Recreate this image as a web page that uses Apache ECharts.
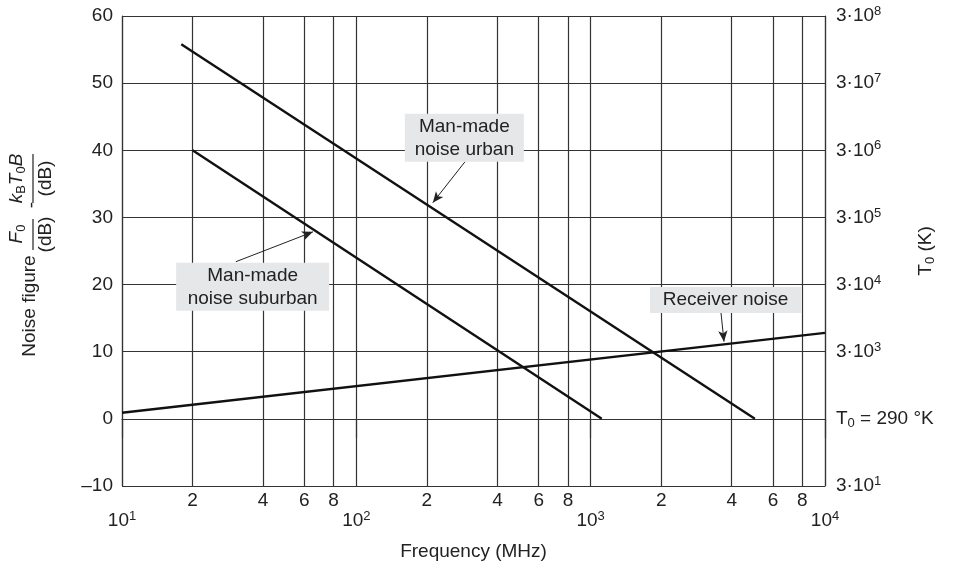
<!DOCTYPE html>
<html>
<head>
<meta charset="utf-8">
<script src="https://cdn.jsdelivr.net/npm/echarts@6/dist/echarts.min.js"></script>
<style>html,body{margin:0;padding:0;background:#fff}#c{width:955px;height:573px}</style>
</head>
<body>
<div id="c"></div>
<script>
// ---- data ----
const decadeTicks = [10, 100, 1000, 10000];
const minorTicks = [20, 40, 60, 80, 200, 400, 600, 800, 2000, 4000, 6000, 8000];
const yTicks = [-10, 0, 10, 20, 30, 40, 50, 60];
const tempExponents = [1, null, 3, 4, 5, 6, 7, 8]; // right axis: 3·10^n, null = T0 = 290 °K

const urbanFreq = [17.9, 5020];
const urbanDb = [55.8, 0];
const suburbanFreq = [20, 1115];
const suburbanDb = [40, 0];
const receiverFreq = [10, 10000];
const receiverDb = [0.9, 12.8];

const annoText = ['Man-made\nnoise urban', 'Man-made\nnoise suburban', 'Receiver noise'];
const annoBox = [[289, 41.85], [36.1, 19.66], [3762, 17.72]];
const annoFrom = [[291, 38.3], [30.6, 23.4], [3599, 15.8]];
const annoTo = [[212, 32.2], [65.3, 27.85], [3707, 11.5]];

// ---- chart ----
const FONT = '"Liberation Sans", Arial, Helvetica, sans-serif';
const FS = 19;
const TXT = '#222';
const GRID = '#333';
const chart = echarts.init(document.getElementById('c'), null, {renderer: 'canvas'});

function zip(a, b) { return a.map((v, i) => [v, b[i]]); }
const supRich = {
  b: {fontSize: FS, fontFamily: FONT, color: TXT, lineHeight: 22},
  s: {fontSize: 13, fontFamily: FONT, color: TXT, verticalAlign: 'top', lineHeight: 13},
  sub: {fontSize: 13, fontFamily: FONT, color: TXT, verticalAlign: 'bottom', lineHeight: 13}
};
const annoSizes = [[119, 48], [153, 48], [151, 26]];
const lineStyleData = {color: '#111', width: 2.4};
const italRich = {
  i: {fontSize: FS, fontStyle: 'italic', fontFamily: FONT, fill: TXT, lineHeight: 22},
  sub: {fontSize: 13, fontFamily: FONT, fill: TXT, verticalAlign: 'bottom', lineHeight: 13}
};

const option = {
  animation: false,
  backgroundColor: '#fff',
  textStyle: {fontFamily: FONT},
  grid: {left: 122, right: 130, top: 16, bottom: 87, outerBoundsMode: 'none', containLabel: false},
  xAxis: [{
    type: 'log', logBase: 10, min: 10, max: 10000,
    name: 'Frequency (MHz)', nameLocation: 'middle', nameGap: 56, nameMoveOverlap: false,
    nameTextStyle: {fontSize: FS, color: TXT, fontFamily: FONT},
    axisLine: {show: true, lineStyle: {color: GRID, width: 1.2}},
    axisTick: {show: true, inside: false, length: 19, customValues: decadeTicks, lineStyle: {color: GRID, width: 1.2}},
    axisLabel: {
      customValues: decadeTicks, margin: 24,
      formatter: v => '{b|10}{s|' + Math.round(Math.log10(v)) + '}',
      rich: supRich
    },
    splitLine: {show: true, lineStyle: {color: GRID, width: 1.2}}
  }, {
    type: 'log', logBase: 10, min: 10, max: 10000, position: 'bottom',
    axisLine: {show: false}, axisTick: {show: false}, splitLine: {show: false},
    axisLabel: {
      customValues: minorTicks, margin: 5, fontSize: FS, color: TXT, fontFamily: FONT,
      formatter: v => String(Math.round(v / Math.pow(10, Math.floor(Math.log10(v) + 1e-9))))
    }
  }],
  yAxis: [{
    type: 'value', min: -10, max: 60, interval: 10, position: 'left',
    axisLine: {show: true, lineStyle: {color: GRID, width: 1.2}},
    axisTick: {show: false},
    axisLabel: {fontSize: FS, color: TXT, fontFamily: FONT, margin: 9,
      formatter: v => v < 0 ? '\u2013' + Math.abs(v) : String(v)},
    splitLine: {show: true, lineStyle: {color: GRID, width: 1.2}}
  }, {
    type: 'value', min: -10, max: 60, interval: 10, position: 'right',
    name: '{b|T}{sub|0}{b| (K)}', nameLocation: 'middle', nameRotate: 90, nameGap: 90, nameMoveOverlap: false,
    nameTextStyle: {rich: supRich},
    axisLine: {show: true, lineStyle: {color: GRID, width: 1.2}},
    axisTick: {show: false},
    axisLabel: {margin: 11, rich: supRich,
      formatter: v => {
        const e = tempExponents[yTicks.indexOf(v)];
        if (e === null || e === undefined) return '{b|T}{sub|0}{b| = 290 \u00B0K}';
        return '{b|3\u00B710}{s|' + e + '}';
      }},
    splitLine: {show: false}
  }],
  series: [{
    type: 'line', name: 'grid', xAxisIndex: 0, yAxisIndex: 0, data: [], z: 1,
    markLine: {
      silent: true, symbol: ['none', 'none'], z: 1, label: {show: false},
      lineStyle: {color: GRID, width: 1.2, type: 'solid'},
      data: minorTicks.map(v => ({xAxis: v}))
    }
  }, {
    type: 'line', name: 'urban', data: zip(urbanFreq, urbanDb), showSymbol: false, symbol: 'none',
    lineStyle: lineStyleData, z: 10
  }, {
    type: 'line', name: 'suburban', data: zip(suburbanFreq, suburbanDb), showSymbol: false, symbol: 'none',
    lineStyle: lineStyleData, z: 10
  }, {
    type: 'line', name: 'receiver', data: zip(receiverFreq, receiverDb), showSymbol: false, symbol: 'none',
    lineStyle: lineStyleData, z: 10,
    markLine: {
      silent: true, z: 12, symbol: ['none', 'arrow'], symbolSize: [7, 11],
      label: {show: false},
      lineStyle: {color: '#222', width: 1, type: 'solid'},
      data: annoFrom.map((f, i) => [{coord: f}, {coord: annoTo[i]}])
    },
    markPoint: {
      silent: true, z: 12, symbol: 'rect',
      data: annoBox.map((c, i) => ({
        coord: c, symbolSize: annoSizes[i],
        itemStyle: {color: '#e6e7e8'},
        label: {show: true, position: 'inside', formatter: annoText[i],
          fontSize: FS, lineHeight: 23, color: TXT, fontFamily: FONT}
      }))
    }
  }],
  graphic: [{
    type: 'group', x: 0, y: 360, rotation: Math.PI / 2, silent: true,
    children: [
      {type: 'text', x: 54, y: 30, style: {text: 'Noise figure', font: FS + 'px ' + FONT, fill: TXT, textAlign: 'center', textVerticalAlign: 'middle'}},
      {type: 'text', x: 126, y: 17, style: {text: '{i|F}{sub|0}', textAlign: 'center', textVerticalAlign: 'middle', rich: italRich}},
      {type: 'line', shape: {x1: 110, y1: 33, x2: 141, y2: 33}, style: {stroke: TXT, lineWidth: 1.2}},
      {type: 'text', x: 125.5, y: 46, style: {text: '(dB)', font: FS + 'px ' + FONT, fill: TXT, textAlign: 'center', textVerticalAlign: 'middle'}},
      {type: 'text', x: 155, y: 32, style: {text: '-', font: FS + 'px ' + FONT, fill: TXT, textAlign: 'center', textVerticalAlign: 'middle'}},
      {type: 'text', x: 181.5, y: 17, style: {text: '{i|k}{sub|B}{i|T}{sub|0}{i|B}', textAlign: 'center', textVerticalAlign: 'middle', rich: italRich}},
      {type: 'line', shape: {x1: 157, y1: 33, x2: 206, y2: 33}, style: {stroke: TXT, lineWidth: 1.2}},
      {type: 'text', x: 181.5, y: 46, style: {text: '(dB)', font: FS + 'px ' + FONT, fill: TXT, textAlign: 'center', textVerticalAlign: 'middle'}}
    ]
  }]
};
chart.setOption(option);
</script>
</body>
</html>
